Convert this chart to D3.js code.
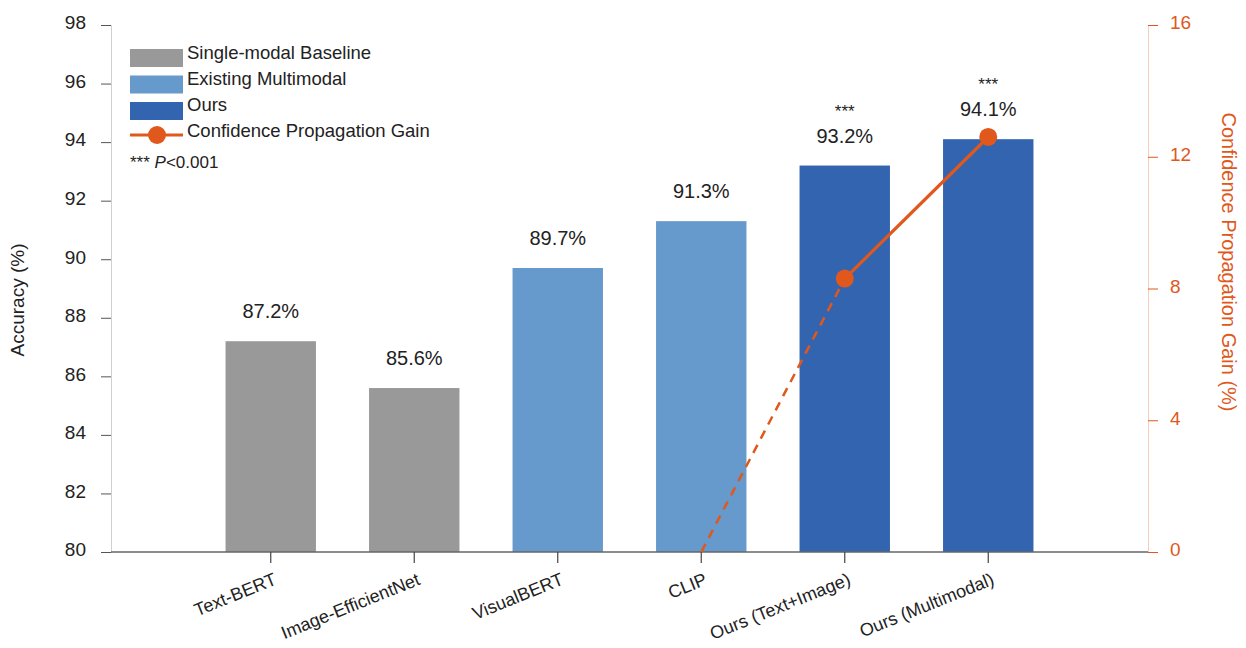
<!DOCTYPE html>
<html>
<head>
<meta charset="utf-8">
<script src="https://cdn.jsdelivr.net/npm/d3@7"></script>
<style>
  body { margin: 0; background: #fff; }
  text { font-family: Arial, "Liberation Sans", sans-serif; }
</style>
</head>
<body>
<div id="chart"></div>
<script>
// data
var models = ["Text-BERT", "Image-EfficientNet", "VisualBERT", "CLIP", "Ours (Text+Image)", "Ours (Multimodal)"];
var accuracy = [87.2, 85.6, 89.7, 91.3, 93.2, 94.1];
var groups = ["single", "single", "multi", "multi", "ours", "ours"];
var gain = [null, null, null, 0, 8.3, 12.6];
var signif = ["", "", "", "", "***", "***"];
var accTicks = [80, 82, 84, 86, 88, 90, 92, 94, 96, 98];
var gainTicks = [0, 4, 8, 12, 16];

var width = 1246, height = 648;
var mLeft = 111, mRight = 1148, mTop = 25, mBottom = 552;
var orange = "#e0581c";
var color = { single: "#999999", multi: "#6699cc", ours: "#3364b0" };

var svg = d3.select("#chart").append("svg")
    .attr("width", width)
    .attr("height", height);

var x = d3.scaleBand()
    .domain(models)
    .range([mLeft + 88, mRight - 88])
    .paddingInner(0.37)
    .paddingOuter(0.185);

var y = d3.scaleLinear().domain([80, 98]).range([mBottom, mTop]);
var y2 = d3.scaleLinear().domain([0, 16]).range([mBottom, mTop]);

//bars
svg.selectAll(".bar")
    .data(models)
    .enter()
    .append("rect")
    .attr("class", "bar")
    .attr("x", function(d) { return x(d); })
    .attr("width", x.bandwidth())
    .attr("y", function(d, i) { return y(accuracy[i]); })
    .attr("height", function(d, i) { return mBottom - y(accuracy[i]); })
    .attr("fill", function(d, i) { return color[groups[i]]; });

//value labels
svg.selectAll(".val")
    .data(models)
    .enter()
    .append("text")
    .attr("x", function(d) { return x(d) + x.bandwidth() / 2; })
    .attr("y", function(d, i) { return y(accuracy[i]) - 23; })
    .attr("text-anchor", "middle")
    .style("font-size", "20px")
    .attr("fill", "#222")
    .text(function(d, i) { return accuracy[i].toFixed(1) + "%"; });

svg.selectAll(".sig")
    .data(models)
    .enter()
    .append("text")
    .attr("x", function(d) { return x(d) + x.bandwidth() / 2; })
    .attr("y", function(d, i) { return y(accuracy[i]) - 49; })
    .attr("text-anchor", "middle")
    .style("font-size", "17px")
    .attr("fill", "#222")
    .text(function(d, i) { return signif[i]; });

//left axis
var gl = svg.append("g")
    .attr("transform", "translate(" + mLeft + ",0)")
    .call(d3.axisLeft(y).tickValues(accTicks).tickSize(10).tickPadding(15));
gl.select(".domain").attr("stroke", "#d0d0d0");
gl.selectAll(".tick line").attr("stroke", "#555");
gl.selectAll(".tick text").style("font-size", "19px").attr("fill", "#222").attr("dy", "0.2em");

//right axis
var gr = svg.append("g")
    .attr("transform", "translate(" + mRight + ",0)")
    .call(d3.axisRight(y2).tickValues(gainTicks).tickSize(10).tickPadding(12));
gr.select(".domain").attr("stroke", "#f7cdb8");
gr.selectAll(".tick line").attr("stroke", orange);
gr.selectAll(".tick text").style("font-size", "19px").attr("fill", orange).attr("dy", "0.2em");

//x axis
var gx = svg.append("g")
    .attr("transform", "translate(0," + mBottom + ")")
    .call(d3.axisBottom(x).tickSize(11).tickSizeOuter(0));
gx.select(".domain").attr("d", "M" + mLeft + ",0H" + mRight).attr("stroke", "#666").attr("stroke-width", 1.5);
gx.selectAll(".tick line").attr("stroke", "#444").attr("stroke-width", 1.2);
gx.selectAll(".tick text")
    .style("font-size", "18px")
    .attr("fill", "#222")
    .attr("text-anchor", "end")
    .attr("dy", null)
    .attr("transform", "translate(7,32) rotate(-22)")
    .attr("y", 0)
    .attr("x", 0);

//axis titles
svg.append("text")
    .attr("transform", "translate(24,300) rotate(-90)")
    .attr("text-anchor", "middle")
    .style("font-size", "19px")
    .attr("fill", "#222")
    .text("Accuracy (%)");

svg.append("text")
    .attr("transform", "translate(1222,262) rotate(90)")
    .attr("text-anchor", "middle")
    .style("font-size", "20px")
    .attr("fill", orange)
    .text("Confidence Propagation Gain (%)");

//gain line
var cx = function(i) { return x(models[i]) + x.bandwidth() / 2; };
var pts = gain.map(function(v, i) { return v === null ? null : [cx(i), y2(v)]; })
    .filter(function(p) { return p !== null; });
var line = d3.line();

svg.append("path")
    .attr("d", line(pts.slice(0, 2)))
    .attr("fill", "none")
    .attr("stroke", orange)
    .attr("stroke-width", 2.5)
    .attr("stroke-dasharray", "9,7");

svg.append("path")
    .attr("d", line(pts.slice(1)))
    .attr("fill", "none")
    .attr("stroke", orange)
    .attr("stroke-width", 3.2);

svg.selectAll(".dot")
    .data(pts.slice(1))
    .enter()
    .append("circle")
    .attr("cx", function(d) { return d[0]; })
    .attr("cy", function(d) { return d[1]; })
    .attr("r", 9)
    .attr("fill", orange);

//legend
var legendItems = ["Single-modal Baseline", "Existing Multimodal", "Ours"];
var legendKeys = ["single", "multi", "ours"];
var lg = svg.append("g").attr("transform", "translate(130,49)");

lg.selectAll(".lrect")
    .data(legendItems)
    .enter()
    .append("rect")
    .attr("x", 0)
    .attr("y", function(d, i) { return i * 26.5; })
    .attr("width", 53)
    .attr("height", 18)
    .attr("fill", function(d, i) { return color[legendKeys[i]]; });

lg.selectAll(".ltext")
    .data(legendItems.concat(["Confidence Propagation Gain"]))
    .enter()
    .append("text")
    .attr("x", 57)
    .attr("y", function(d, i) { return i * 26 + 10; })
    .style("font-size", "18.5px")
    .attr("fill", "#222")
    .text(function(d) { return d; });

lg.append("line")
    .attr("x1", 0).attr("x2", 53)
    .attr("y1", 86).attr("y2", 86)
    .attr("stroke", orange)
    .attr("stroke-width", 3);
lg.append("circle")
    .attr("cx", 27).attr("cy", 86).attr("r", 9)
    .attr("fill", orange);

var note = lg.append("text")
    .attr("x", 0)
    .attr("y", 119)
    .style("font-size", "17px")
    .attr("fill", "#222");
note.append("tspan").text("*** ");
note.append("tspan").style("font-style", "italic").text("P");
note.append("tspan").text("<0.001");
</script>
</body>
</html>
